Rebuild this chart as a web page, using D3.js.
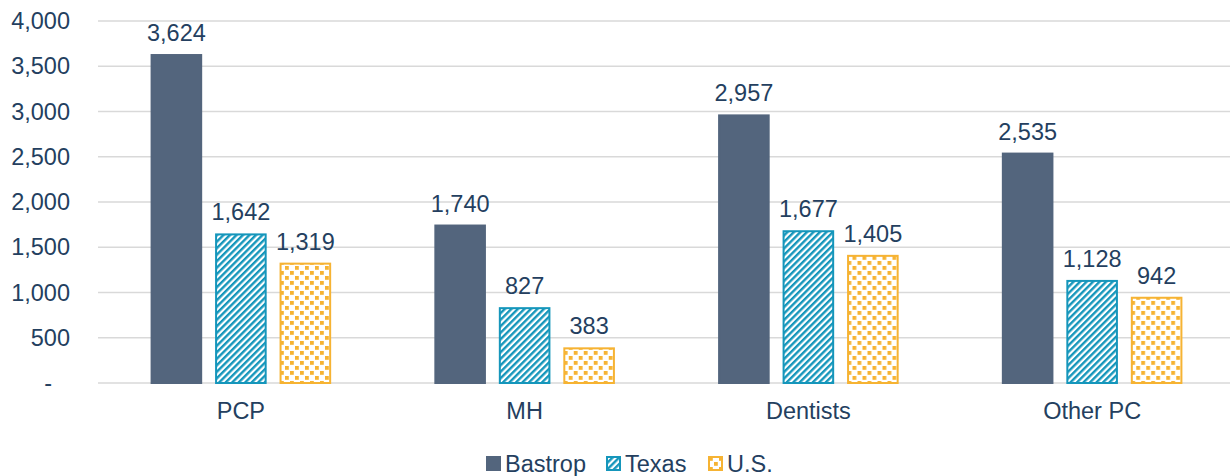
<!DOCTYPE html>
<html>
<head>
<meta charset="utf-8">
<script src="https://cdn.jsdelivr.net/npm/d3@7"></script>
<style>
  body { margin: 0; background: #fff; }
  svg { display: block; font-family: "Liberation Sans", Arial, sans-serif; }
</style>
</head>
<body>
<div id="chart"></div>
<script>
// values
const categories = ["PCP", "MH", "Dentists", "Other PC"];
const seriesNames = ["Bastrop", "Texas", "U.S."];
const bastrop = [3624, 1740, 2957, 2535];
const texas = [1642, 827, 1677, 1128];
const us = [1319, 383, 1405, 942];
const yTicks = [0, 500, 1000, 1500, 2000, 2500, 3000, 3500, 4000];

const W = 1230, H = 476;
const textColor = "#243f5f";
const navy = "#53657d", teal = "#1596bb", gold = "#f6b333";
const fontSize = "23.5px";

const svg = d3.select("#chart").append("svg")
    .attr("width", W).attr("height", H);

// patterns
const defs = svg.append("defs");
const stripes = defs.append("pattern")
    .attr("id", "stripes")
    .attr("patternUnits", "userSpaceOnUse")
    .attr("width", 4.6).attr("height", 4.6)
    .attr("patternTransform", "rotate(45)");
stripes.append("rect").attr("width", 4.6).attr("height", 4.6).attr("fill", "#fff");
stripes.append("rect").attr("width", 2.4).attr("height", 4.6).attr("fill", teal);

const dots = defs.append("pattern")
    .attr("id", "dots")
    .attr("patternUnits", "userSpaceOnUse")
    .attr("width", 10).attr("height", 10);
dots.append("rect").attr("width", 10).attr("height", 10).attr("fill", "#fff");
[[1, 1], [6, 6]].forEach(p => {
    dots.append("rect").attr("x", p[0]).attr("y", p[1])
        .attr("width", 3.8).attr("height", 3.8).attr("fill", gold);
});

const fills = ["navy", "url(#stripes)", "url(#dots)"];
const strokes = [navy, teal, gold];

const x0 = d3.scaleBand().domain(categories).range([99, 1234]);
const x1 = d3.scaleBand().domain(seriesNames)
    .range([0, x0.bandwidth()]).paddingInner(0.2).paddingOuter(0.8);
const y = d3.scaleLinear().domain([0, 4000]).range([383, 21]);

// grid
svg.append("g").selectAll("line").data(yTicks).join("line")
    .attr("x1", 98).attr("x2", W)
    .attr("y1", d => y(d)).attr("y2", d => y(d))
    .attr("stroke", "#d9d9d9").attr("stroke-width", 1.5);

// y axis
const fmt = d3.format(",");
const yAxis = svg.append("g")
    .attr("transform", "translate(82,0)")
    .call(d3.axisLeft(y).tickValues(yTicks).tickSize(0).tickPadding(0)
        .tickFormat(d => d === 0 ? "-" : fmt(d)));
yAxis.select(".domain").remove();
yAxis.selectAll("text")
    .attr("fill", textColor).style("font-size", fontSize)
    .attr("dx", d => d === 0 ? -30 : -12);

// x axis labels
const xAxis = svg.append("g")
    .attr("transform", "translate(0,383)")
    .call(d3.axisBottom(x0).tickSize(0).tickPadding(19));
xAxis.select(".domain").remove();
xAxis.selectAll("text").attr("fill", textColor).style("font-size", fontSize);

const rows = categories.map((c, i) => ({
    cat: c,
    vals: [bastrop[i], texas[i], us[i]].map((v, j) => ({ s: seriesNames[j], v, j }))
}));

const groups = svg.append("g").selectAll("g").data(rows).join("g")
    .attr("transform", d => `translate(${x0(d.cat)},0)`);

groups.selectAll("rect").data(d => d.vals).join("rect")
    .attr("x", d => x1(d.s) + 1)
    .attr("width", x1.bandwidth() - 2)
    .attr("y", d => y(d.v))
    .attr("height", d => y(0) - y(d.v))
    .attr("fill", d => d.j === 0 ? navy : fills[d.j])
    .attr("stroke", d => strokes[d.j])
    .attr("stroke-width", 2);

groups.selectAll("text").data(d => d.vals).join("text")
    .attr("x", d => x1(d.s) + x1.bandwidth() / 2)
    .attr("y", d => y(d.v) - 14)
    .attr("text-anchor", "middle")
    .attr("fill", textColor)
    .style("font-size", fontSize)
    .text(d => fmt(d.v));

// legend
const legendX = [486, 606, 708];
const legend = svg.append("g").selectAll("g").data(seriesNames).join("g")
    .attr("transform", (d, i) => `translate(${legendX[i]},456)`);
legend.append("rect")
    .attr("x", 1).attr("y", 1).attr("width", 13).attr("height", 13)
    .attr("fill", (d, i) => i === 0 ? navy : fills[i])
    .attr("stroke", (d, i) => strokes[i]).attr("stroke-width", 2);
legend.append("text")
    .attr("x", 19).attr("y", 16)
    .attr("fill", textColor).style("font-size", fontSize)
    .text(d => d);
</script>
</body>
</html>
